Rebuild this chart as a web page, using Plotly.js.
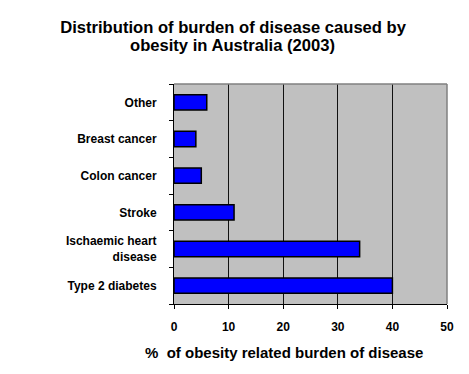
<!DOCTYPE html>
<html>
<head>
<meta charset="utf-8">
<script src="https://cdn.plot.ly/plotly-3.0.1.min.js"></script>
<style>html,body{margin:0;padding:0;background:#fff;}#chart{width:469px;height:374px;}</style>
</head>
<body>
<div id="chart"></div>
<script>
const categories = ["Type 2 diabetes", "Ischaemic heart<br>disease", "Stroke", "Colon cancer", "Breast cancer", "Other"];
const values = [40, 34, 11, 5, 4, 6];
const xTicks = [0, 10, 20, 30, 40, 50];
const titleLine1 = "Distribution of burden of disease caused by";
const titleLine2 = "obesity in Australia (2003)";
const xTitleText = "%  of obesity related burden of disease";

const plotTop = 83.5, plotH = 220.5, plotL = 174, plotW = 273.5;
const fam = "Liberation Sans, Arial, sans-serif";

const trace = {
  type: "bar",
  orientation: "h",
  x: values,
  y: categories,
  width: 0.42,
  marker: {color: "#0000FF", line: {color: "#000000", width: 1.5}},
  hoverinfo: "skip"
};

const layout = {
  width: 469, height: 374,
  margin: {l: 174, r: 21.5, t: 83.5, b: 70, pad: 0},
  paper_bgcolor: "#ffffff",
  plot_bgcolor: "#C0C0C0",
  showlegend: false,
  font: {family: fam, color: "#000"},
  title: {
    text: "<b>" + titleLine1 + "</b>",
    font: {size: 16.6, family: fam, color: "#000"},
    xref: "container", x: 0.497, xanchor: "center",
    yref: "container", y: 1 - 27 / 374, yanchor: "middle"
  },
  xaxis: {
    range: [0, 50],
    tickvals: xTicks,
    ticktext: xTicks.map(v => "<b>" + v + "</b>"),
    ticks: "outside", ticklen: 4, tickcolor: "#000", tickwidth: 1,
    showgrid: true, gridcolor: "#111", gridwidth: 1,
    zeroline: false,
    showline: true, linecolor: "#000", linewidth: 1,
    tickfont: {size: 12, family: fam},
    ticklabelstandoff: 8,
    fixedrange: true
  },
  yaxis: {
    type: "category",
    categoryorder: "array",
    categoryarray: categories,
    tickvals: categories,
    ticktext: categories.map(c => "<b>" + c + "</b>"),
    tickson: "boundaries",
    ticks: "outside", ticklen: 4, tickcolor: "#000", tickwidth: 1,
    showgrid: false,
    showline: true, linecolor: "#000", linewidth: 1,
    tickfont: {size: 12, family: fam},
    ticklabelstandoff: 14,
    fixedrange: true
  },
  shapes: [
    {type: "line", xref: "paper", yref: "paper", x0: 0, x1: 1, y0: 1, y1: 1, line: {color: "#808080", width: 1.5}},
    {type: "line", xref: "paper", yref: "paper", x0: 1, x1: 1, y0: 0, y1: 1, line: {color: "#808080", width: 1.5}}
  ],
  annotations: [
    {text: "<b>" + titleLine2 + "</b>", xref: "paper", yref: "paper",
     x: (233 - plotL) / plotW, y: 1 + (plotTop - 45) / plotH,
     xanchor: "center", yanchor: "middle", showarrow: false,
     font: {size: 16.6, family: fam, color: "#000"}},
    {text: "<b>" + xTitleText + "</b>", xref: "paper", yref: "paper",
     x: (284 - plotL) / plotW, y: -(353 - 304) / plotH,
     xanchor: "center", yanchor: "middle", showarrow: false,
     font: {size: 15, family: fam, color: "#000"}}
  ]
};

Plotly.newPlot("chart", [trace], layout, {displayModeBar: false, staticPlot: true});
</script>
</body>
</html>
